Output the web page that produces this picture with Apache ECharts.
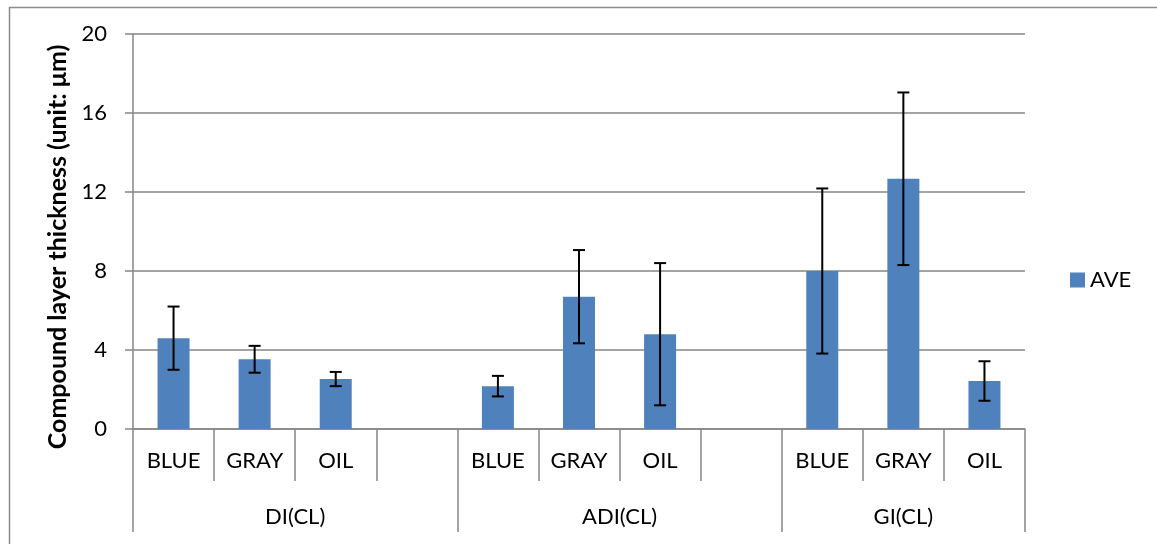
<!DOCTYPE html>
<html>
<head>
<meta charset="utf-8">
<script src="https://cdn.jsdelivr.net/npm/echarts@6/dist/echarts.min.js"></script>
<style>
html,body{margin:0;padding:0;background:#fff;}
#chart{width:1157px;height:544px;}
</style>
</head>
<body>
<div id="chart"></div>
<script>
// ---- data ----
const categories = ['BLUE','GRAY','OIL','','BLUE','GRAY','OIL','','BLUE','GRAY','OIL'];
const aveValues = [4.6, 3.53, 2.53, null, 2.17, 6.7, 4.8, null, 8.0, 12.67, 2.43];
const errValues = [1.6, 0.68, 0.36, null, 0.52, 2.36, 3.6, null, 4.18, 4.37, 1.0];
const groupNames = ['DI(CL)','ADI(CL)','GI(CL)'];
const groupSizes = [4, 4, 3];
const yTicks = {min: 0, max: 20, interval: 4};
const seriesName = 'AVE';

// ---- derived from group sizes ----
const groupBounds = [0];
groupSizes.forEach(s => groupBounds.push(groupBounds[groupBounds.length - 1] + s));
const groupLabelPos = groupSizes.map((s, i) => groupBounds[i] + s / 2);

const FONT = 'Lato, "Open Sans", sans-serif';
const AXIS_COLOR = '#868686';
const BAR_COLOR = '#4f81bd';

const errorData = aveValues.map((v, i) => v == null ? null : [i, v - errValues[i], v + errValues[i]]).filter(d => d);

const chart = echarts.init(document.getElementById('chart'), null, {renderer: 'canvas'});
chart.setOption({
  animation: false,
  backgroundColor: '#fff',
  graphic: [{
    type: 'rect', left: 7, top: 5, z: -10,
    shape: {width: 1200, height: 600},
    style: {fill: 'none', stroke: '#8c8c8c', lineWidth: 1.5}
  }],
  legend: {
    data: [seriesName],
    orient: 'vertical',
    left: 1065, top: 264,
    itemWidth: 15, itemHeight: 15, itemGap: 6,
    icon: 'rect',
    textStyle: {fontFamily: FONT, fontSize: 22, color: '#000'}
  },
  grid: {left: 133, right: 132, top: 34, bottom: 115, containLabel: false},
  xAxis: [{
    type: 'category',
    position: 'bottom',
    data: categories,
    axisLine: {onZero: false, lineStyle: {color: AXIS_COLOR, width: 1.5}},
    axisTick: {show: true, length: 52, alignWithLabel: false, lineStyle: {color: AXIS_COLOR, width: 1.5}},
    axisLabel: {interval: 0, margin: 21, fontFamily: FONT, fontSize: 22, color: '#000'},
    splitLine: {show: false}
  }, {
    type: 'value',
    position: 'bottom',
    min: 0, max: categories.length,
    axisLine: {show: false, onZero: false},
    axisTick: {show: true, length: 103, customValues: groupBounds, lineStyle: {color: AXIS_COLOR, width: 1.5}},
    axisLabel: {
      show: true, margin: 77, customValues: groupLabelPos,
      fontFamily: FONT, fontSize: 22, color: '#000',
      formatter: v => { const i = groupLabelPos.indexOf(v); return i >= 0 ? groupNames[i] : ''; }
    },
    splitLine: {show: false}
  }],
  yAxis: {
    type: 'value',
    min: yTicks.min, max: yTicks.max, interval: yTicks.interval,
    name: 'Compound layer thickness (unit: μm)',
    nameLocation: 'middle',
    nameGap: 63,
    nameTextStyle: {fontFamily: FONT, fontSize: 25, fontWeight: 'bold', color: '#000', padding: [0, 31, 0, 0]},
    axisLine: {show: true, lineStyle: {color: AXIS_COLOR, width: 1.5}},
    axisTick: {show: true, length: 8, lineStyle: {color: AXIS_COLOR, width: 1.5}},
    axisLabel: {margin: 26, fontFamily: FONT, fontSize: 22, color: '#000'},
    splitLine: {show: true, lineStyle: {color: AXIS_COLOR, width: 1.5}}
  },
  series: [{
    name: seriesName,
    type: 'bar',
    xAxisIndex: 0,
    data: aveValues,
    barWidth: 32,
    itemStyle: {color: BAR_COLOR},
    z: 2
  }, {
    type: 'custom',
    name: 'err',
    xAxisIndex: 0,
    data: errorData,
    z: 5,
    renderItem: function (params, api) {
      const x = api.coord([api.value(0), 0])[0];
      const lo = api.coord([api.value(0), api.value(1)])[1];
      const hi = api.coord([api.value(0), api.value(2)])[1];
      const cap = 6;
      const style = {stroke: '#000', lineWidth: 2};
      return {
        type: 'group',
        children: [
          {type: 'line', shape: {x1: x, y1: lo, x2: x, y2: hi}, style},
          {type: 'line', shape: {x1: x - cap, y1: hi, x2: x + cap, y2: hi}, style},
          {type: 'line', shape: {x1: x - cap, y1: lo, x2: x + cap, y2: lo}, style}
        ]
      };
    }
  }]
});
</script>
</body>
</html>
